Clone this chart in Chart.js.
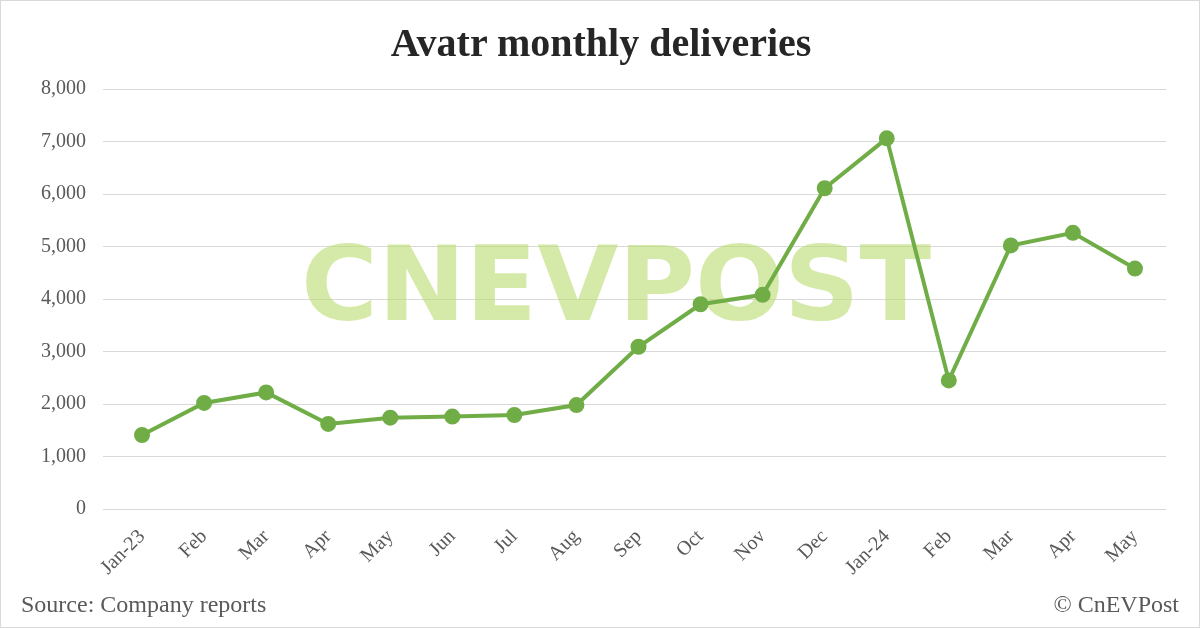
<!DOCTYPE html>
<html><head><meta charset="utf-8">
<script src="https://cdn.jsdelivr.net/npm/chart.js@4"></script>
<style>
html,body{margin:0;padding:0;background:#fff;}
#wrap{position:relative;width:1200px;height:628px;box-sizing:border-box;border:1px solid #d9d9d9;}
#t{position:absolute;top:18px;left:0;width:1200px;text-align:center;font:bold 40px "Liberation Serif";color:#262626;}
.f{position:absolute;top:590px;font:24px "Liberation Serif";color:#595959;}
canvas{position:absolute;left:0;top:0;}
</style></head><body>
<div id="wrap">
<canvas id="c" width="1200" height="628"></canvas>
<div id="t">Avatr monthly deliveries</div>
<div class="f" style="left:20px">Source: Company reports</div>
<div class="f" style="right:20px">© CnEVPost</div>
</div>
<script>
const categories=["Jan-23","Feb","Mar","Apr","May","Jun","Jul","Aug","Sep","Oct","Nov","Dec","Jan-24","Feb","Mar","Apr","May"];
const deliveries=[1410,2020,2220,1620,1740,1760,1790,1980,3090,3900,4080,6110,7060,2450,5020,5260,4580];
const yTicks=[0,1000,2000,3000,4000,5000,6000,7000,8000];
const wm={id:'wm',beforeDatasetsDraw(ch){const c=ch.ctx;c.save();c.font='bold 104px "DejaVu Sans"';c.fillStyle='rgba(185,220,110,0.6)';c.textAlign='center';c.textBaseline='middle';c.translate(615,292);const w=c.measureText('CNEVPOST').width;c.scale(630/w,1);c.fillText('CNEVPOST',0,0);c.restore();}};
new Chart(document.getElementById('c'),{type:'line',
data:{labels:categories,datasets:[{data:deliveries,borderColor:'#70AD47',backgroundColor:'#70AD47',borderWidth:4,pointRadius:6,pointHoverRadius:6,tension:0}]},
options:{responsive:false,animation:false,layout:{padding:{top:88,right:35,left:0,bottom:0}},
plugins:{legend:{display:false},tooltip:{enabled:false}},
scales:{x:{offset:true,grid:{display:false},border:{display:false},ticks:{color:'#595959',font:{family:'Liberation Serif',size:20},maxRotation:45,minRotation:45,padding:8},afterFit(s){s.height=120;}},
y:{min:0,max:8000,afterBuildTicks(s){s.ticks=yTicks.map(v=>({value:v}));},grid:{color:'#d9d9d9'},border:{display:false},ticks:{color:'#595959',font:{family:'Liberation Serif',size:20},padding:17,callback:v=>v.toLocaleString('en-US')},afterFit(s){s.width=110;}}}},
plugins:[wm]});
</script></body></html>
